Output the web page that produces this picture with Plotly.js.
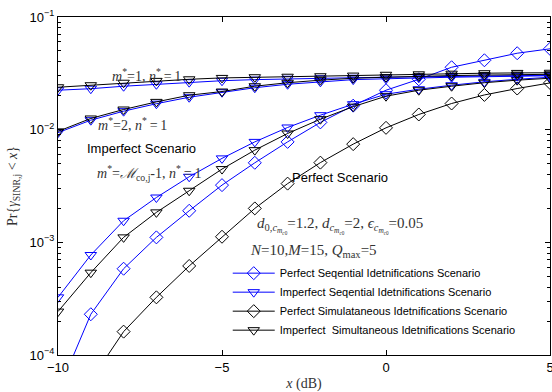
<!DOCTYPE html>
<html>
<head>
<meta charset="utf-8">
<script src="https://cdn.plot.ly/plotly-3.0.1.min.js"></script>
<style>html,body{margin:0;padding:0;background:#fff;}#chart{width:552px;height:392px;}</style>
</head>
<body>
<div id="chart"></div>
<script>
// x values (dB)
const xdB = [-10,-9,-8,-7,-6,-5,-4,-3,-2,-1,0,1,2,3,4,5];

// Imperfect scenario, m*=1, n*=1
const impSeqM1 = [0.0224,0.0231,0.0243,0.0253,0.0264,0.0272,0.0278,0.0283,0.0286,0.0289,0.0292,0.0295,0.0298,0.0301,0.0302,0.0304];
const impSimM1 = [0.0238,0.0248,0.0261,0.0271,0.0280,0.0288,0.0292,0.0295,0.0298,0.0302,0.0307,0.0310,0.0314,0.0317,0.0319,0.0320];

// Imperfect scenario, m*=2, n*=1
const impSeqM2 = [0.00941,0.01214,0.01459,0.01700,0.01941,0.02150,0.02356,0.0253,0.0266,0.0278,0.0283,0.0289,0.0292,0.0295,0.0298,0.0301];
const impSimM2 = [0.00966,0.01257,0.01510,0.01764,0.02022,0.02180,0.0243,0.0261,0.0275,0.0286,0.0292,0.0298,0.0302,0.0305,0.0308,0.0310];

// Imperfect scenario, m*=M_co,j-1, n*=1
const impSeqMM = [3.25e-4,7.72e-4,1.554e-3,2.50e-3,3.82e-3,5.56e-3,7.79e-3,0.01046,0.01344,0.01683,0.02064,0.02286,0.0248,0.0266,0.0280,0.0292];
const impSimMM = [2.43e-4,5.38e-4,1.107e-3,1.845e-3,2.87e-3,4.47e-3,6.58e-3,9.25e-3,0.01239,0.01600,0.01982,0.0224,0.0243,0.0261,0.0275,0.0286];

// Perfect scenario
const perfSeq = [4.7e-5,2.30e-4,5.83e-4,1.107e-3,1.906e-3,3.22e-3,5.08e-3,7.79e-3,0.0116,0.01633,0.0224,0.0280,0.0358,0.0413,0.0477,0.0522];
const perfSim = [3.3e-5,5.95e-5,1.612e-4,3.25e-4,6.17e-4,1.121e-3,2.00e-3,3.32e-3,5.10e-3,7.44e-3,0.01038,0.01364,0.01707,0.02034,0.02318,0.02600];

const legendNames = [
  "Perfect Seqential Idetnifications Scenario",
  "Imperfect Seqential Idetnifications Scenario",
  "Perfect Simulataneous Idetnifications Scenario",
  "Imperfect  Simultaneous Idetnifications Scenario"
];

const yTickVals = [1e-4,1e-3,1e-2,1e-1];
const yTickText = ["10<sup>−4</sup>","10<sup>−3</sup>","10<sup>−2</sup>","10<sup>−1</sup>"];
const xTickVals = [-10,-5,0,5];
const xTickText = ["−10","−5","0","5"];

// minor log ticks 2..9 within each decade
const yMinor = [];
[1e-4,1e-3,1e-2].forEach(function(d){ for (let k = 2; k <= 9; k++) yMinor.push(d * k); });

const BLUE = "#0000ff", BLACK = "#000000";
function tr(y, color, symbol, name, group, show) {
  return {
    x: xdB, y: y, type: "scatter", mode: "lines+markers",
    name: name, legendgroup: group, showlegend: show,
    line: {color: color, width: 1},
    marker: {symbol: symbol, size: 10, color: color, line: {color: color, width: 1}},
    cliponaxis: true
  };
}

const data = [
  tr(perfSeq, BLUE, "diamond-open", legendNames[0], "g0", true),
  tr(impSeqMM, BLUE, "triangle-down-open", legendNames[1], "g1", true),
  tr(perfSim, BLACK, "diamond-open", legendNames[2], "g2", true),
  tr(impSimMM, BLACK, "triangle-down-open", legendNames[3], "g3", true),
  tr(impSeqM1, BLUE, "triangle-down-open", legendNames[1], "g1", false),
  tr(impSeqM2, BLUE, "triangle-down-open", legendNames[1], "g1", false),
  tr(impSimM1, BLACK, "triangle-down-open", legendNames[3], "g3", false),
  tr(impSimM2, BLACK, "triangle-down-open", legendNames[3], "g3", false)
];

const serif = "Liberation Serif, DejaVu Serif, serif";
const sans = "Liberation Sans, Arial, sans-serif";
const mathColor = "#333333";
const T = "\u2009";

function ann(x, y, text, font, xanchor) {
  return {xref: "paper", yref: "paper", x: x, y: y, xanchor: xanchor || "center", yanchor: "middle",
          text: text, showarrow: false, font: font};
}
const mathFont = {family: serif, size: 14, color: mathColor};
const mathFontL = {family: serif, size: 15, color: mathColor};
const sansFont = {family: sans, size: 13, color: "#000"};
const cm = "<i>c</i><sub><i>m</i><sub><i>c</i>0</sub></sub>";

const layout = {
  width: 552, height: 392,
  margin: {l: 58, r: 2, t: 17, b: 37},
  paper_bgcolor: "#ffffff", plot_bgcolor: "#ffffff",
  showlegend: true,
  xaxis: {
    range: [-10, 5], tickvals: xTickVals, ticktext: xTickText,
    ticks: "inside", ticklen: 5, tickcolor: "#000", tickwidth: 1,
    showline: true, linecolor: "#000", linewidth: 1, mirror: "ticks",
    showgrid: false, zeroline: false, ticklabeloverflow: "allow",
    tickfont: {family: sans, size: 13, color: "#000"},
    title: {text: "<i>x</i> (dB)", font: {family: serif, size: 14, color: mathColor}, standoff: 6}
  },
  yaxis: {
    type: "log", range: [-4, -1], tickvals: yTickVals, ticktext: yTickText,
    ticks: "inside", ticklen: 5, tickcolor: "#000", tickwidth: 1,
    minor: {tickvals: yMinor, ticks: "inside", ticklen: 3, tickcolor: "#000", showgrid: false},
    showline: true, linecolor: "#000", linewidth: 1, mirror: "ticks",
    showgrid: false, zeroline: false, ticklabeloverflow: "allow",
    tickfont: {family: sans, size: 13, color: "#000"},
    title: {text: "Pr{<i>γ</i><sub>SINR,j</sub> &lt; <i>x</i>}", font: {family: serif, size: 14, color: mathColor}, standoff: 8}
  },
  legend: {
    x: 0.345, y: 0.285, xanchor: "left", yanchor: "top",
    bgcolor: "rgba(255,255,255,0)", borderwidth: 0,
    font: {family: sans, size: 11, color: "#000"},
    tracegroupgap: 0, itemwidth: 42
  },
  annotations: [
    ann(0.179, 0.828, "<i>m</i><sup>*</sup>=1, <i>n</i><sup>*</sup>" + T + "=" + T + "1", mathFont),
    ann(0.152, 0.683, "<i>m</i><sup>*</sup>=2, <i>n</i><sup>*</sup>" + T + "=" + T + "1", mathFont),
    ann(0.169, 0.612, "Imperfect Scenario", sansFont),
    ann(0.185, 0.538, "<i>m</i><sup>*</sup>=<i>ℳ</i><sub>co,j</sub>-1, <i>n</i><sup>*</sup>" + T + "=" + T + "1", mathFont),
    ann(0.573, 0.524, "Perfect Scenario", sansFont),
    ann(0.400, 0.382, "<i>d</i><sub>0," + cm + "</sub>=1.2, <i>d</i><sub>" + cm + "</sub>=2, <i>ϵ</i><sub>" + cm + "</sub>=0.05", mathFontL, "left"),
    ann(0.386, 0.309, "<i>N</i>=10,<i>M</i>=15, <i>Q</i><sub>max</sub>=5", mathFontL, "left")
  ]
};

Plotly.newPlot("chart", data, layout, {displayModeBar: false, staticPlot: true});
</script>
</body>
</html>
